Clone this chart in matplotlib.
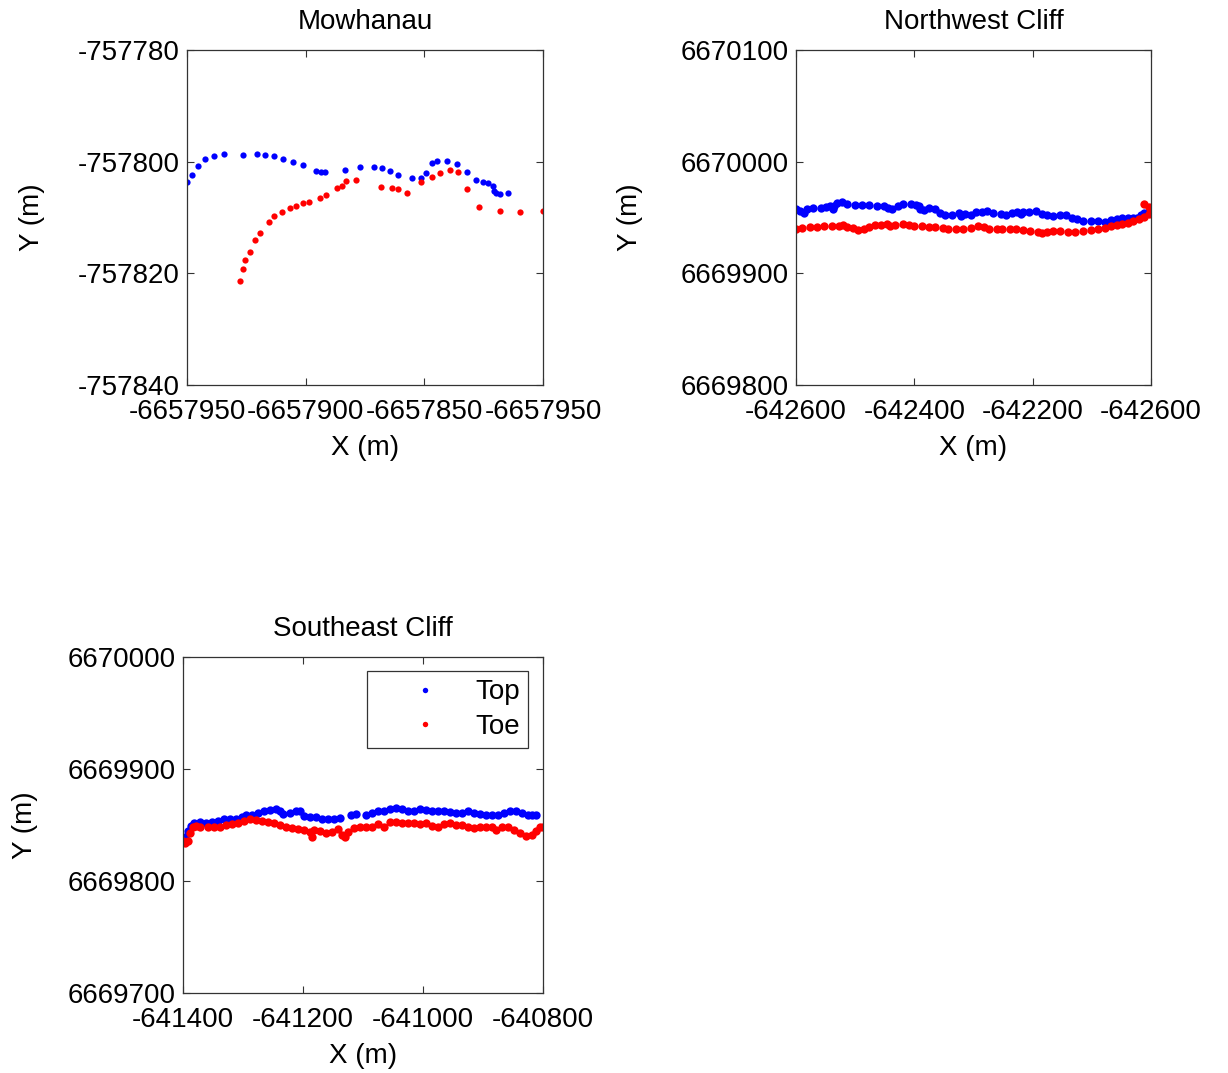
import numpy as np
import matplotlib.pyplot as plt

plt.rcParams['font.family'] = ['Liberation Sans', 'DejaVu Sans']
plt.rcParams['font.size'] = 20

# Mowhanau (sparse survey points)
mow_top_x = [-6657950.0, -6657947.8, -6657945.3, -6657942.3, -6657938.7, -6657934.3, -6657926.2,
             -6657920.5, -6657917.3, -6657913.5, -6657909.5, -6657905.3, -6657901.2, -6657895.5,
             -6657893.5, -6657891.7, -6657883.3, -6657877.2, -6657871.3, -6657867.7, -6657864.3,
             -6657861.2, -6657855.0, -6657851.2, -6657849.5, -6657846.8, -6657844.8, -6657840.3,
             -6657836.2, -6657832.0, -6657828.2, -6657825.2, -6657823.2, -6657821.2, -6657820.8,
             -6657819.7, -6657818.2, -6657814.8]
mow_top_y = [-757803.6, -757802.4, -757800.7, -757799.6, -757798.9, -757798.7, -757798.75,
             -757798.7, -757798.75, -757799.0, -757799.6, -757800.1, -757800.6, -757801.6,
             -757801.8, -757801.8, -757801.5, -757801.0, -757800.9, -757801.1, -757801.7,
             -757802.3, -757803.0, -757803.0, -757802.0, -757800.3, -757799.9, -757799.8,
             -757800.5, -757801.9, -757803.2, -757803.7, -757803.9, -757804.4, -757805.2,
             -757805.7, -757805.8, -757805.7]
mow_toe_x = [-6657927.7, -6657926.2, -6657925.5, -6657923.3, -6657921.5, -6657919.2, -6657915.5,
             -6657913.2, -6657909.8, -6657906.7, -6657904.2, -6657901.3, -6657898.5, -6657894.0,
             -6657891.5, -6657887.0, -6657884.7, -6657883.0, -6657879.0, -6657868.3, -6657863.8,
             -6657861.2, -6657857.3, -6657851.2, -6657846.7, -6657843.3, -6657839.0, -6657835.8,
             -6657832.2, -6657826.8, -6657818.0, -6657809.5, -6657800.0]
mow_toe_y = [-757821.4, -757819.2, -757817.7, -757816.1, -757814.1, -757812.7, -757810.8,
             -757809.7, -757809.0, -757808.3, -757808.0, -757807.4, -757807.2, -757806.5,
             -757805.9, -757804.8, -757804.3, -757803.4, -757803.3, -757804.6, -757804.8,
             -757804.9, -757805.7, -757803.7, -757802.7, -757802.0, -757801.5, -757801.9,
             -757804.9, -757808.2, -757808.9, -757809.0, -757808.8]
mow_xticks = [-6657950, -6657900, -6657850, -6657800]
mow_xlabels = ['-6657950', '-6657900', '-6657850', '-6657950']
mow_yticks = [-757840, -757820, -757800, -757780]

# Northwest Cliff
nw_top_x = [-642600, -642593, -642587, -642582, -642571, -642558, -642549, -642542, -642538, -642536,
            -642530, -642523, -642514, -642501, -642489, -642476, -642463, -642451, -642444, -642438,
            -642428, -642419, -642406, -642397, -642392, -642390, -642384, -642375, -642365, -642356,
            -642349, -642337, -642324, -642321, -642315, -642305, -642296, -642286, -642277, -642267,
            -642254, -642245, -642235, -642226, -642220, -642216, -642207, -642194, -642185, -642175,
            -642166, -642153, -642144, -642134, -642125, -642115, -642102, -642090, -642077, -642068,
            -642058, -642049, -642039, -642030, -642023, -642017, -642011]
nw_top_y = [6669957.7, 6669956.0, 6669954.2, 6669957.2, 6669958.3, 6669958.9, 6669959.5, 6669960.7,
            6669957.2, 6669960.1, 6669963.1, 6669964.0, 6669962.5, 6669961.6, 6669961.3, 6669961.0,
            6669960.7, 6669960.1, 6669958.3, 6669957.7, 6669960.1, 6669961.9, 6669961.9, 6669961.6,
            6669960.1, 6669957.2, 6669956.6, 6669958.3, 6669957.2, 6669954.2, 6669952.4, 6669952.4,
            6669954.2, 6669951.2, 6669953.0, 6669952.4, 6669954.5, 6669954.8, 6669955.4, 6669953.6,
            6669953.0, 6669952.4, 6669953.6, 6669954.8, 6669953.0, 6669954.8, 6669954.8, 6669955.4,
            6669953.3, 6669951.8, 6669951.2, 6669951.8, 6669951.8, 6669950.0, 6669948.8, 6669947.3,
            6669947.0, 6669947.0, 6669945.8, 6669948.2, 6669948.8, 6669950.0, 6669950.0, 6669949.4,
            6669950.0, 6669951.8, 6669954.2]
nw_toe_x = [-642600, -642590, -642577, -642565, -642552, -642539, -642527, -642520, -642514, -642504,
            -642495, -642485, -642476, -642466, -642457, -642447, -642441, -642432, -642419, -642409,
            -642400, -642387, -642375, -642365, -642352, -642343, -642330, -642318, -642305, -642292,
            -642283, -642273, -642261, -642251, -642239, -642229, -642216, -642204, -642191, -642185,
            -642175, -642166, -642153, -642140, -642128, -642115, -642102, -642090, -642077, -642068,
            -642058, -642049, -642039, -642030, -642020, -642011, -642004, -642000, -642004, -642011]
nw_toe_y = [6669939.9, 6669940.5, 6669941.7, 6669941.7, 6669942.0, 6669942.3, 6669942.0, 6669942.9,
            6669941.7, 6669940.5, 6669938.7, 6669939.9, 6669941.1, 6669942.9, 6669943.5, 6669944.1,
            6669942.3, 6669943.2, 6669944.1, 6669943.5, 6669942.3, 6669942.3, 6669941.7, 6669941.1,
            6669940.5, 6669939.9, 6669939.9, 6669939.9, 6669940.5, 6669942.3, 6669941.1, 6669939.9,
            6669939.9, 6669939.9, 6669939.9, 6669939.3, 6669938.7, 6669938.1, 6669936.9, 6669936.3,
            6669936.9, 6669937.5, 6669938.1, 6669936.9, 6669936.9, 6669937.5, 6669938.7, 6669939.9,
            6669940.5, 6669942.3, 6669943.5, 6669944.1, 6669945.2, 6669947.0, 6669948.8, 6669950.6,
            6669953.0, 6669956.6, 6669959.5, 6669961.9]
nw_xticks = [-642600, -642400, -642200, -642000]
nw_xlabels = ['-642600', '-642400', '-642200', '-642600']
nw_yticks = [6669800, 6669900, 6670000, 6670100]

# Southeast Cliff
se_top_x = [-641400, -641397, -641392, -641387, -641382, -641372, -641362, -641352, -641342, -641332,
            -641322, -641312, -641302, -641295, -641285, -641275, -641265, -641255, -641245, -641239,
            -641234, -641222, -641212, -641205, -641199, -641189, -641179, -641169, -641159, -641149,
            -641139, -641120, -641112, -641095, -641085, -641075, -641065, -641055, -641045, -641035,
            -641025, -641015, -641005, -640995, -640985, -640975, -640965, -640955, -640945, -640935,
            -640925, -640915, -640905, -640895, -640885, -640875, -640865, -640855, -640845, -640835,
            -640825, -640819, -640812]
se_top_y = [6669837.2, 6669839.6, 6669844.9, 6669849.1, 6669851.5, 6669852.7, 6669852.1, 6669852.7,
            6669853.9, 6669855.1, 6669855.7, 6669855.1, 6669856.9, 6669859.3, 6669858.7, 6669860.4,
            6669862.8, 6669863.4, 6669864.0, 6669862.2, 6669859.8, 6669861.0, 6669862.8, 6669862.2,
            6669858.1, 6669857.5, 6669856.9, 6669855.7, 6669855.7, 6669855.7, 6669856.3, 6669859.3,
            6669859.8, 6669858.7, 6669860.4, 6669862.2, 6669862.8, 6669864.0, 6669865.2, 6669864.6,
            6669862.8, 6669862.8, 6669864.0, 6669863.4, 6669862.8, 6669862.8, 6669862.2, 6669861.6,
            6669860.4, 6669861.0, 6669862.2, 6669861.0, 6669859.8, 6669859.3, 6669859.3, 6669858.7,
            6669861.0, 6669862.8, 6669862.8, 6669861.0, 6669858.7, 6669858.7, 6669859.3]
se_toe_x = [-641400, -641397, -641392, -641389, -641383, -641379, -641372, -641359, -641349, -641339,
            -641329, -641319, -641309, -641299, -641289, -641279, -641269, -641259, -641249, -641239,
            -641229, -641219, -641209, -641199, -641189, -641185, -641182, -641172, -641162, -641152,
            -641142, -641135, -641130, -641125, -641115, -641105, -641095, -641085, -641075, -641065,
            -641055, -641045, -641035, -641025, -641015, -641005, -640995, -640985, -640975, -640965,
            -640955, -640945, -640935, -640925, -640915, -640905, -640895, -640885, -640879, -640869,
            -640859, -640849, -640839, -640829, -640819, -640812, -640805, -640800]
se_toe_y = [6669836.0, 6669834.2, 6669835.4, 6669842.6, 6669847.9, 6669849.1, 6669848.5, 6669847.9,
            6669848.5, 6669848.5, 6669849.7, 6669850.9, 6669852.1, 6669853.9, 6669855.7, 6669854.5,
            6669853.3, 6669852.7, 6669852.1, 6669850.3, 6669847.9, 6669847.3, 6669846.1, 6669845.5,
            6669843.7, 6669839.6, 6669845.5, 6669844.9, 6669842.6, 6669843.7, 6669846.1, 6669841.4,
            6669839.6, 6669843.7, 6669847.3, 6669848.5, 6669847.9, 6669848.5, 6669850.9, 6669848.5,
            6669852.7, 6669852.7, 6669852.1, 6669852.1, 6669851.5, 6669850.9, 6669852.1, 6669849.1,
            6669848.5, 6669850.9, 6669851.5, 6669849.7, 6669849.7, 6669847.9, 6669847.3, 6669847.9,
            6669848.5, 6669847.9, 6669845.5, 6669847.9, 6669848.5, 6669845.5, 6669842.6, 6669840.2,
            6669840.8, 6669844.9, 6669847.9, 6669848.5]
se_xticks = [-641400, -641200, -641000, -640800]
se_yticks = [6669700, 6669800, 6669900, 6670000]

W, H = 1228, 1073


def box(l, t, r, b):
    # pixel box -> figure fraction
    return [l / W, 1 - b / H, (r - l) / W, (b - t) / H]


def style(ax, xt, xl, yt, title, ylab_x):
    ax.set_xlim(xt[0], xt[-1])
    ax.set_ylim(yt[0], yt[-1])
    ax.set_xticks(xt, xl)
    ax.set_yticks(yt, [str(v) for v in yt])
    ax.tick_params(direction='in', length=5, width=0.8, top=True, right=True,
                   labelsize=20, color='0.2')
    ax.tick_params(axis='x', pad=10)
    ax.tick_params(axis='y', pad=5)
    for s in ax.spines.values():
        s.set_color('0.2')
        s.set_linewidth(0.9)
    ax.set_title(title, fontsize=20, pad=15)
    ax.set_xlabel('X (m)', fontsize=20, labelpad=7)
    ax.set_ylabel('Y (m)', fontsize=20)
    ax.yaxis.set_label_coords(ylab_x, 0.5)


fig = plt.figure(figsize=(12.28, 10.73), dpi=100)

ax1 = fig.add_axes(box(187, 50, 543, 385))
ax1.plot(mow_top_x, mow_top_y, 'o', color='#0000ff', ms=4.5, mec='none')
ax1.plot(mow_toe_x, mow_toe_y, 'o', color='#ff0000', ms=4.5, mec='none')
style(ax1, mow_xticks, mow_xlabels, mow_yticks, 'Mowhanau', -0.40)

ax2 = fig.add_axes(box(796, 50, 1151, 385))
ax2.plot(nw_top_x, nw_top_y, 'o', color='#0000ff', ms=6, mec='none')
ax2.plot(nw_toe_x, nw_toe_y, 'o', color='#ff0000', ms=6, mec='none')
style(ax2, nw_xticks, nw_xlabels, nw_yticks, 'Northwest Cliff', -0.432)

ax3 = fig.add_axes(box(183, 657, 543, 993))
ax3.plot(se_top_x, se_top_y, 'o', color='#0000ff', ms=6, mec='none', label='Top')
ax3.plot(se_toe_x, se_toe_y, 'o', color='#ff0000', ms=6, mec='none', label='Toe')
style(ax3, se_xticks, [str(v) for v in se_xticks], se_yticks, 'Southeast Cliff', -0.402)
leg = ax3.legend(loc='upper right', bbox_to_anchor=(0.958, 0.958), borderaxespad=0,
                 fancybox=False, edgecolor='0.2', framealpha=1, fontsize=20,
                 handlelength=3.6, handletextpad=0.0, borderpad=0.3, labelspacing=0.3,
                 markerscale=0.65)
leg.get_frame().set_linewidth(0.9)

fig.savefig('out.png', dpi=100)
